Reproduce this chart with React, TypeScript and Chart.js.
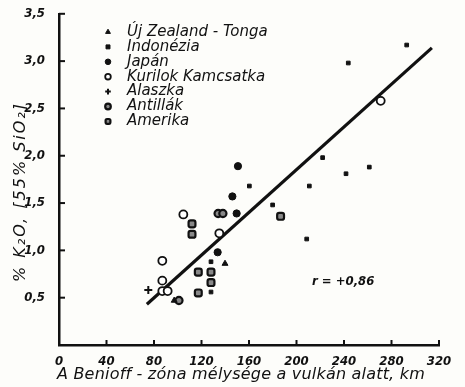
import React, { useEffect, useRef } from "react";
import { Chart, registerables } from "chart.js";
import { drawPoint } from "chart.js/helpers";

Chart.register(...registerables);

const seriesNames = [
  "Új Zealand - Tonga",
  "Indonézia",
  "Japán",
  "Kurilok Kamcsatka",
  "Alaszka",
  "Antillák",
  "Amerika",
];

const ujZealand = [
  { x: 139.8, y: 0.86 },
  { x: 97, y: 0.47 },
];
const indonezia = [
  { x: 292.8, y: 3.17 },
  { x: 243.6, y: 2.98 },
  { x: 222, y: 1.98 },
  { x: 241.7, y: 1.81 },
  { x: 261.3, y: 1.88 },
  { x: 210.8, y: 1.68 },
  { x: 160.3, y: 1.68 },
  { x: 179.9, y: 1.48 },
  { x: 208.6, y: 1.12 },
  { x: 128, y: 0.88 },
  { x: 128, y: 0.56 },
];
const japan = [
  { x: 150.7, y: 1.89 },
  { x: 146, y: 1.57 },
  { x: 149.6, y: 1.39 },
  { x: 133.6, y: 0.98 },
];
const kurilok = [
  { x: 104.7, y: 1.38 },
  { x: 135, y: 1.18 },
  { x: 87, y: 0.89 },
  { x: 87, y: 0.68 },
  { x: 87, y: 0.57 },
  { x: 91.5, y: 0.57 },
  { x: 270.9, y: 2.58 },
];
const alaszka = [{ x: 75.2, y: 0.58 }];
const antillak = [
  { x: 134, y: 1.39 },
  { x: 138, y: 1.39 },
  { x: 101, y: 0.47 },
];
const amerika = [
  { x: 112, y: 1.28 },
  { x: 112, y: 1.17 },
  { x: 117.3, y: 0.77 },
  { x: 128, y: 0.77 },
  { x: 128, y: 0.66 },
  { x: 117.3, y: 0.55 },
  { x: 186.6, y: 1.36 },
];
const regression = [
  { x: 74, y: 0.43 },
  { x: 314, y: 3.14 },
];
const xTickValues = [40, 80, 120, 160, 200, 240, 280, 320];
const yTickValues = [0.5, 1.0, 1.5, 2.0, 2.5, 3.0, 3.5];
const rLabel = "r = +0,86";
const xTitle = "A Benioff - zóna mélysége a vulkán alatt, km";
const yTitle = "% K₂O, [55% SiO₂]";

const INK = "#111";
const TICK_FONT = { family: "'DejaVu Sans Condensed', 'DejaVu Sans'", size: 13, style: "italic", weight: "bold" };

const styles = [
  { pointStyle: "triangle", radius: 3.4, bg: INK, bw: 1 },
  { pointStyle: "rect", radius: 2.6, bg: INK, bw: 1 },
  { pointStyle: "circle", radius: 3.6, bg: INK, bw: 1 },
  { pointStyle: "circle", radius: 4, bg: "#fff", bw: 1.8 },
  { pointStyle: "cross", radius: 4, bg: INK, bw: 2 },
  { pointStyle: "circle", radius: 3.6, bg: "#888", bw: 2.2 },
  { pointStyle: "rectRounded", radius: 4, bg: "#888", bw: 2.2 },
];

const seriesData = [ujZealand, indonezia, japan, kurilok, alaszka, antillak, amerika];

function fitText(ctx: any, text: string, targetWidth: number) {
  ctx.letterSpacing = "0px";
  const w = ctx.measureText(text).width;
  const sp = (targetWidth - w) / Math.max(1, text.length - 1);
  ctx.letterSpacing = sp.toFixed(2) + "px";
}

const decorPlugin = {
  id: "decor",
  afterDraw(chart: any) {
    const ctx = chart.ctx;
    const xs = chart.scales.x;
    const ys = chart.scales.y;
    const area = chart.chartArea;
    ctx.save();
    ctx.strokeStyle = INK;
    ctx.fillStyle = INK;
    ctx.lineWidth = 2;
    yTickValues.forEach((v) => {
      const py = ys.getPixelForValue(v);
      ctx.beginPath();
      ctx.moveTo(area.left, py);
      ctx.lineTo(area.left + 6, py);
      ctx.stroke();
    });
    xTickValues.forEach((v) => {
      const px = xs.getPixelForValue(v);
      ctx.beginPath();
      ctx.moveTo(px, area.bottom);
      ctx.lineTo(px, area.bottom - 5);
      ctx.stroke();
    });
    const sets = chart.data.datasets.filter((d: any) => d.isSeries);
    sets.forEach((d: any, i: number) => {
      const y = 32 + i * 14.9;
      ctx.fillStyle = d.backgroundColor;
      ctx.strokeStyle = INK;
      ctx.lineWidth = d.borderWidth;
      drawPoint(ctx, { pointStyle: d.pointStyle, radius: 2.8, rotation: 0, borderWidth: d.borderWidth }, 108, y);
      ctx.fillStyle = INK;
      ctx.font = 'italic 15px "DejaVu Sans"';
      ctx.textAlign = "left";
      ctx.textBaseline = "middle";
      ctx.fillText(d.label, 127, y);
    });
    ctx.font = "bold italic 13px 'DejaVu Sans Condensed', 'DejaVu Sans'";
    ctx.textAlign = "left";
    ctx.textBaseline = "middle";
    ctx.fillText(rLabel, 312, 282);
    ctx.font = 'italic 16px "DejaVu Sans"';
    ctx.textAlign = "left";
    ctx.textBaseline = "middle";
    fitText(ctx, xTitle, 368);
    ctx.fillText(xTitle, 57, 375);
    ctx.translate(21, 192);
    ctx.rotate(-Math.PI / 2);
    ctx.textAlign = "center";
    ctx.font = 'italic 16px "DejaVu Sans"';
    fitText(ctx, yTitle, 178);
    ctx.fillText(yTitle, 0, 0);
    ctx.restore();
  },
};

export default function App() {
  const ref = useRef<HTMLCanvasElement | null>(null);
  useEffect(() => {
    document.body.style.margin = "0";
    const canvas = ref.current!;
    const datasets: any[] = seriesData.map((data, i) => ({
      type: "scatter",
      label: seriesNames[i],
      isSeries: true,
      data,
      pointStyle: styles[i].pointStyle,
      pointRadius: styles[i].radius,
      backgroundColor: styles[i].bg,
      borderColor: INK,
      borderWidth: styles[i].bw,
    }));
    datasets.push({
      type: "line",
      label: "regresszió",
      data: regression,
      borderColor: INK,
      borderWidth: 3.2,
      pointRadius: 0,
      fill: false,
      order: 10,
    });
    const chart = new Chart(canvas, {
      type: "scatter",
      data: { datasets },
      plugins: [decorPlugin, {
        id: "bg",
        beforeDraw(c: any) {
          const ctx = c.ctx;
          ctx.save();
          ctx.fillStyle = "#fdfdfa";
          ctx.fillRect(0, 0, c.width, c.height);
          ctx.restore();
        },
      }],
      options: {
        responsive: false,
        animation: false,
        layout: { padding: { top: 13, right: 26, left: 0, bottom: 0 } },
        plugins: { legend: { display: false }, tooltip: { enabled: false } },
        scales: {
          x: {
            type: "linear",
            min: 0,
            max: 320,
            afterFit: (s: any) => { s.height = 42; },
            afterBuildTicks: (s: any) => {
              s.ticks = [0, ...xTickValues].map((v) => ({ value: v }));
            },
            grid: { display: false },
            border: { display: true, color: INK, width: 2.5 },
            ticks: {
              color: INK,
              padding: 1,
              maxRotation: 0,
              font: TICK_FONT,
              callback: (v: any) => String(v),
            },
          },
          y: {
            type: "linear",
            min: 0,
            max: 3.5,
            afterFit: (s: any) => { s.width = 59; },
            afterBuildTicks: (s: any) => {
              s.ticks = yTickValues.map((v) => ({ value: v }));
            },
            grid: { display: false },
            border: { display: true, color: INK, width: 2.5 },
            ticks: {
              color: INK,
              padding: 6,
              font: TICK_FONT,
              callback: (v: any) => Number(v).toFixed(1).replace(".", ","),
            },
          },
        },
      } as any,
    });
    return () => chart.destroy();
  }, []);
  return (
    <div style={{ width: 465, height: 387 }}>
      <canvas ref={ref} width={465} height={387} style={{ display: "block" }} />
    </div>
  );
}
